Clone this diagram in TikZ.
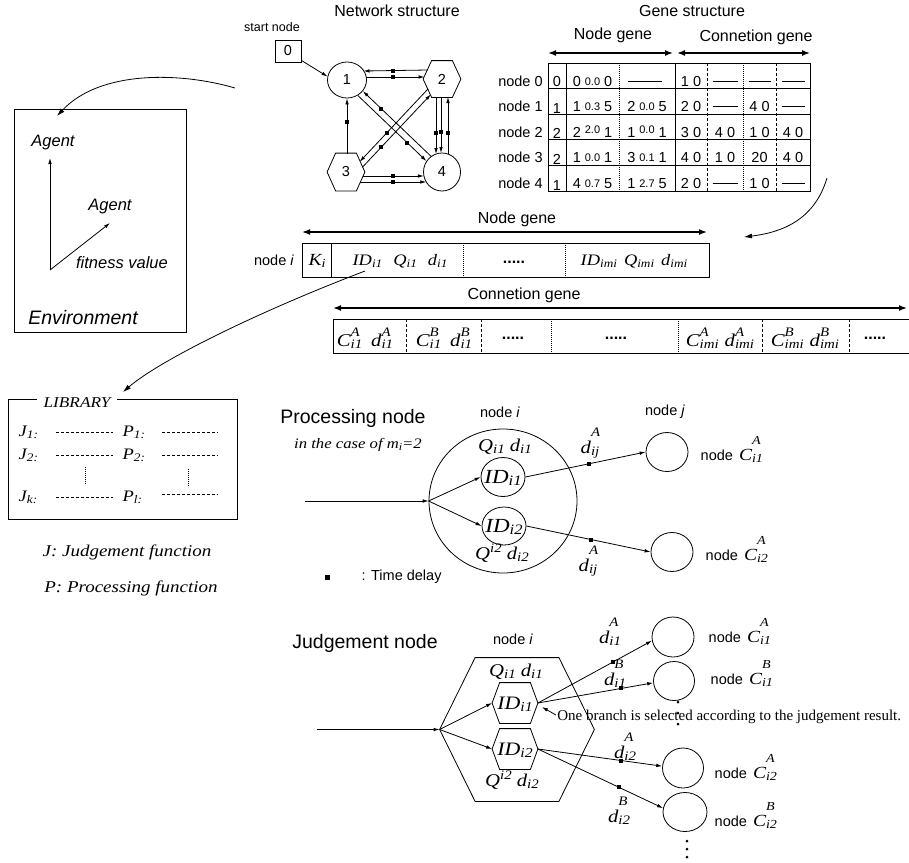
\documentclass[tikz,border=0pt]{standalone}
\usepackage{fontspec}
\usepackage{graphicx}
\setmainfont{Liberation Serif}
\setsansfont{Liberation Sans}
\newfontfamily\arl{Liberation Sans}
\newfontfamily\tif[FakeStretch=1.15]{Liberation Serif}
\usetikzlibrary{arrows.meta,calc,shapes.geometric}
\newcommand\fs[1]{\fontsize{#1}{#1}\selectfont}
\newcommand\ti[1]{{\tif\itshape #1}}
\newcommand\lo[1]{\raisebox{-0.12em}{\scalebox{0.72}{#1}}}
\newcommand\hi[1]{\raisebox{0.42em}{\scalebox{0.72}{#1}}}
\newcommand\lst[3]{\raisebox{-0.12em}{\scalebox{0.72}{\rlap{\raisebox{#3}{#2}}#1}}}
\newcommand\sm[1]{\raisebox{1pt}{\fs{11}#1}}
\newcommand\smh[1]{\raisebox{3.5pt}{\fs{11}#1}}
\newcommand\hexof[2]{\draw ($(#1.west)$) -- ($(#1.north west)+(#2,0)$) -- ($(#1.north east)-(#2,0)$) -- (#1.east) -- ($(#1.south east)-(#2,0)$) -- ($(#1.south west)+(#2,0)$) -- cycle;}
\newcommand\rowb[1]{63+25.6*(#1+1)}
\newcounter{cc}
\newcommand\cell[3]{\stepcounter{cc}\node[anchor=base, font=\arl\fs{14.5}, inner sep=0] (cell\thecc) at (#1, {\rowb{#2}-2.5}) {#3};}
\newcommand\cdash[3]{\draw[line width=0.8pt] ({#1-#3/2}, {\rowb{#2}-7.5}) -- ({#1+#3/2}, {\rowb{#2}-7.5});}
\begin{document}
\begin{tikzpicture}[x=1pt,y=-1pt,line width=0.8pt,
  sf/.style={font=\arl\fs{14.5}},
  hdr/.style={font=\arl\fs{16}},
  bigt/.style={font=\arl\fs{19.5}},
  arr/.style={-{Latex[length=6pt,width=3.6pt]}},
  carr/.style={-{Latex[length=8pt,width=5pt]}},
  dbl/.style={{Latex[length=8pt,width=6pt]}-{Latex[length=8pt,width=6pt]},line width=1.5pt},
  sq/.style={fill=black,draw=none,minimum size=4pt,inner sep=0pt},
  circ/.style={draw,ellipse,inner sep=0pt},
  hexn/.style={inner sep=0pt,rectangle},
  dotl/.style={line width=0.8pt,dash pattern=on 0.8pt off 1.2pt},
  dshl/.style={line width=0.7pt,dash pattern=on 3pt off 2pt}]
\useasboundingbox (0,0) rectangle (909,862);

% ---------------- Network structure ----------------
\node[hdr] (nettitle) at (397,11) {Network structure};
\node[font=\arl\fs{12.5}] (startlbl) at (272,27) {start node};
\node[draw,minimum width=26pt,minimum height=22pt,inner sep=0pt,sf] (n0) at (288,51) {0};
\node[circ,minimum width=39pt,minimum height=36pt,sf] (n1) at (347,80) {1};
\node[hexn,minimum width=37pt,minimum height=36pt,sf] (n2) at (442,79) {2};
\hexof{n2}{8.5}
\node[hexn,minimum width=37pt,minimum height=37pt,sf] (n3) at (346,172) {3};
\hexof{n3}{8.5}
\node[circ,minimum width=37pt,minimum height=38pt,sf] (n4) at (442,172) {4};

\draw[arr] ($(n0.south east)+(0,-2)$) -- (n1.170);
\draw[arr] ($(n2.center)+(-14,-9)$) -- node[sq,pos=.55]{} ($(n1.center)+(16.5,-9)$);
\draw[arr] ($(n1.center)+(19,-3)$) -- node[sq,pos=.46]{} ($(n2.center)+(-17.5,-2)$);
\draw[arr] ($(n2.center)+(-6,18)$) -- node[sq,pos=.63]{} ($(n4.center)+(-6,-18)$);
\draw[arr] ($(n2.center)+(-1,18)$) -- node[sq,pos=.63]{} ($(n4.center)+(-1,-19)$);
\draw[arr] ($(n4.center)+(6,-18)$) -- node[sq,pos=.37]{} ($(n2.center)+(6,18)$);
\draw[arr] ($(n3.center)+(1,-18.5)$) -- node[sq,pos=.57]{} (n1.south);
\draw[arr] ($(n3.center)+(16.7,4)$) -- node[sq,pos=.5]{} ($(n4.center)+(-18.2,4)$);
\draw[arr] ($(n3.center)+(14,10)$) -- node[sq,pos=.5]{} ($(n4.center)+(-15.7,10)$);
\draw[arr] (n4.125) -- node[sq,pos=.73]{} (n1.-35);
\draw[arr] (n1.-55) -- node[sq,pos=.72]{} (n4.145);
\draw[arr] ($(n3.center)+(16.25,-4.6)$) -- node[sq,pos=.28]{} ($(n2.center)+(-11.15,15.4)$);
\draw[arr] ($(n2.center)+(-13.9,9.8)$) -- node[sq,pos=.6]{} ($(n3.center)+(13.6,-10.2)$);

% ---------------- Gene structure table ----------------
\node[hdr] (genetitle) at (692,11) {Gene structure};
\node[hdr] (ngh) at (613,35) {Node gene};
\node[hdr] (cgh) at (756,37) {Connetion gene};
\coordinate (ga) at (548,53); \coordinate (gb) at (673,53);
\coordinate (gc) at (677,53); \coordinate (gd) at (810,53);
\draw[dbl] (ga) -- (gb);
\draw[dbl] (gc) -- (gd);

\draw (548,63) rectangle (810,191);
\foreach \k in {1,...,4} \draw (548,{63+25.6*\k}) -- (810,{63+25.6*\k});
\draw (566,63) -- (566,191);
\draw (675,63) -- (675,191);
\draw[dotl] (619,63) -- (619,191);
\draw[dotl] (743,63) -- (743,191);
\draw[dshl] (707,63) -- (707,191);
\draw[dshl] (776,63) -- (776,191);
\foreach \k in {0,...,4} \node[anchor=base east,sf,inner sep=0pt] (rl\k) at (543,{\rowb{\k}-2.5}) {node \k};

% row 0
\cell{557}{0}{0}
\cell{592.5}{0}{0~\sm{0.0}~0}
\cdash{645}{0}{34}
\cell{691}{0}{1~0}
\cdash{725}{0}{25}
\cdash{759.5}{0}{22}
\cdash{793}{0}{23}
% row 1
\cell{557}{1}{\raisebox{-1.5pt}{1}}
\cell{592.5}{1}{1~\sm{0.3}~5}
\cell{647}{1}{2~\sm{0.0}~5}
\cell{691}{1}{2~0}
\cdash{725}{1}{25}
\cell{759.5}{1}{4~0}
\cdash{793}{1}{23}
% row 2
\cell{557}{2}{\raisebox{-1.5pt}{2}}
\cell{592.5}{2}{2~\smh{2.0}~1}
\cell{647}{2}{1~\smh{0.0}~1}
\cell{691}{2}{3~0}
\cell{725}{2}{4~0}
\cell{759.5}{2}{1~0}
\cell{793}{2}{4~0}
% row 3
\cell{557}{3}{\raisebox{-1.5pt}{2}}
\cell{592.5}{3}{1~\sm{0.0}~1}
\cell{647}{3}{3~\sm{0.1}~1}
\cell{691}{3}{4~0}
\cell{725}{3}{1~0}
\cell{759.5}{3}{20}
\cell{793}{3}{4~0}
% row 4
\cell{557}{4}{\raisebox{-1.5pt}{1}}
\cell{592.5}{4}{4~\sm{0.7}~5}
\cell{647}{4}{1~\sm{2.7}~5}
\cell{691}{4}{2~0}
\cdash{725}{4}{25}
\cell{759.5}{4}{1~0}
\cdash{793}{4}{23}

% ---------------- Environment ----------------
\node[draw,minimum width=172pt,minimum height=223pt,inner sep=0pt] (env) at (100,220.5) {};
\node[font=\arl\itshape\fs{16.5}] (ag1) at (53,143) {Agent};
\node[font=\arl\itshape\fs{16.5}] (ag2) at (110,207) {Agent};
\node[font=\arl\itshape\fs{16.5}] (fit) at (122,263) {fitness value};
\node[font=\arl\itshape\fs{19.5}] (envt) at (83,318) {Environment};
\coordinate (eo) at (50,270);
\coordinate (eup) at (50,158);
\coordinate (ediag) at (110,223);
\draw[arr] (eo) -- (eup);
\draw[arr] (eo) -- (ediag);

\coordinate (netout) at (235,88);
\coordinate (envin) at (57,116);
\draw[carr] (netout) .. controls (180,72) and (100,70) .. (envin);

% ---------------- Node gene bar ----------------
\node[hdr] (ngh2) at (517,219) {Node gene};
\coordinate (nga) at (302,232); \coordinate (ngb) at (707,232);
\draw[dbl] (nga) -- (ngb);
\node[draw,minimum width=407pt,minimum height=34pt,inner sep=0pt] (ngbar) at (505.5,260) {};
\draw (331,243) -- (331,277);
\draw[dotl] (463,243) -- (463,277);
\draw[dotl] (565,243) -- (565,277);
\node[sf] (nodei) at (274,260) {node \textit{i}};
\node[font=\tif\itshape\fs{17}] (ki) at (317,261) {K\lo{i}};
\node[font=\tif\itshape\fs{16}] (idq1) at (400,261) {ID\lo{i1}\hspace{11pt}Q\lo{i1}\hspace{11pt}d\lo{i1}};
\node[font=\arl\bfseries\fs{16}] (ngdots) at (514,262) {.....};
\node[font=\tif\itshape\fs{16}] (idqm) at (634,261) {ID\lo{imi}\hspace{7pt}Q\lo{imi}\hspace{7pt}d\lo{imi}};

\coordinate (tabout) at (827,178);
\coordinate (barin) at (744,237);
\draw[carr] (tabout) .. controls (815,218) and (785,232) .. (barin);

% ---------------- Connection gene bar ----------------
\node[hdr] (cgh2) at (524,295) {Connetion gene};
\coordinate (cga) at (333,308); \coordinate (cgb) at (907,308);
\draw[dbl] (cga) -- (cgb);
\node[draw,minimum width=576pt,minimum height=34pt,inner sep=0pt] (cgbar) at (621,336) {};
\draw[dshl] (406,319) -- (406,353);
\draw[dshl] (481,319) -- (481,353);
\draw[dotl] (551,319) -- (551,353);
\draw[dotl] (678,319) -- (678,353);
\draw[dshl] (762,319) -- (762,353);
\draw[dshl] (849,319) -- (849,353);
\node[font=\tif\itshape\fs{18}] (cg1) at (365,338) {C\lst{i1}{A}{0.95em}\hspace{9pt}d\lst{i1}{A}{0.95em}};
\node[font=\tif\itshape\fs{18}] (cg2) at (444,338) {C\lst{i1}{B}{0.95em}\hspace{9pt}d\lst{i1}{B}{0.95em}};
\node[font=\arl\bfseries\fs{16}] (cgd1) at (513,338) {.....};
\node[font=\arl\bfseries\fs{16}] (cgd2) at (616,338) {.....};
\node[font=\tif\itshape\fs{18}] (cg3) at (720,338) {C\lst{imi}{A}{0.95em}\hspace{6pt}d\lst{imi}{A}{0.95em}};
\node[font=\tif\itshape\fs{18}] (cg4) at (805,338) {C\lst{imi}{B}{0.95em}\hspace{6pt}d\lst{imi}{B}{0.95em}};
\node[font=\arl\bfseries\fs{16}] (cgd3) at (875,338) {.....};

% ---------------- Library ----------------
\coordinate (idout) at (365,271);
\coordinate (libin) at (123,392);
\draw[carr] (idout) .. controls (260,311) and (160,360) .. (libin);
\draw (37,399) -- (8,399) -- (8,519) -- (237,519) -- (237,399) -- (117,399);
\node[font=\tif\itshape\fs{15}] (libt) at (77,403) {LIBRARY};
\node[anchor=west,font=\tif\itshape\fs{16}] (j1) at (15,432) {J\lo{1:}};
\node[anchor=west,font=\tif\itshape\fs{16}] (j2) at (15,455) {J\lo{2:}};
\node[anchor=west,font=\tif\itshape\fs{16}] (jk) at (15,497) {J\lo{k:}};
\node[anchor=west,font=\tif\itshape\fs{16}] (p1) at (119,432) {P\lo{1:}};
\node[anchor=west,font=\tif\itshape\fs{16}] (p2) at (119,455) {P\lo{2:}};
\node[anchor=west,font=\tif\itshape\fs{16}] (pl) at (119,497) {P\lo{l:}};
\draw[dshl,line width=0.6pt] (56,432) -- (113,432);
\draw[dshl,line width=0.6pt] (56,455) -- (113,455);
\draw[dshl,line width=0.6pt] (56,497) -- (113,497);
\draw[dshl,line width=0.6pt] (162,432) -- (218,432);
\draw[dshl,line width=0.6pt] (162,455) -- (218,455);
\draw[dshl,line width=0.6pt] (162,494) -- (218,494);
\draw[dotl] (85,467) -- (85,485);
\draw[dotl] (188,469) -- (188,487);
\node[font=\tif\itshape\fs{16.5}] (jdef) at (127,552) {J: Judgement function};
\node[font=\tif\itshape\fs{16.5}] (pdef) at (131,588) {P: Processing function};

% ---------------- Processing node ----------------
\node[bigt] (proct) at (353,418) {Processing node};
\node[font=\tif\itshape\fs{14.5}] (pcase) at (358,445) {in the case of m\lo{i}=2};
\node[sf] (pnodei) at (500,412) {node \textit{i}};
\node[sf] (pnodej) at (665,412) {node \textit{j}};
\node[circ,minimum width=148pt,minimum height=144pt] (pc) at (503,501) {};
\node[circ,minimum width=44pt,minimum height=39pt] (id1) at (503,477) {};
\node[circ,minimum width=44pt,minimum height=38pt] (id2) at (504,526) {};
\node[font=\tif\itshape\fs{20}] (id1t) at (503,478) {ID\lo{i1}};
\node[font=\tif\itshape\fs{20}] (id2t) at (504,527) {ID\lo{i2}};
\node[font=\tif\itshape\fs{18}] (pq1) at (505,447) {Q\lo{i1} d\lo{i1}};
\node[font=\tif\itshape\fs{18}] (pq2) at (502,553) {Q\hi{i2} d\lo{i2}};
\node[circ,minimum width=42pt,minimum height=39pt] (cj1) at (667,452) {};
\node[circ,minimum width=42pt,minimum height=39pt] (cj2) at (672,552) {};
\coordinate (pin) at (305,501);
\draw[arr] (pin) -- (pc.west);
\draw[arr] (pc.west) -- (id1.west);
\draw[arr] (pc.west) -- (id2.west);
\draw[arr] (id1.east) -- node[sq,pos=.53]{} (cj1.west);
\draw[arr] (id2.east) -- node[sq,pos=.52]{} (cj2.west);
\node[font=\tif\itshape\fs{18},anchor=base] (pd1) at (590,453) {d\lst{ij}{A}{1.45em}};
\node[font=\tif\itshape\fs{18},anchor=base] (pd2) at (588,571) {d\lst{ij}{A}{1.45em}};
\node[sf,anchor=base west] (pl1) at (697,460) {node\hspace{6pt}\ti{\fs{17}C\lst{i1}{A}{1.45em}}};
\node[sf,anchor=base west] (pl2) at (702,560) {node\hspace{6pt}\ti{\fs{17}C\lst{i2}{A}{1.45em}}};
\node[sq,minimum size=5pt] (tdsq) at (327,577) {};
\node[sf,anchor=west] (tdl) at (358,577) {: Time delay};

% ---------------- Judgement node ----------------
\node[bigt] (judt) at (365,643) {Judgement node};
\node[sf] (jnodei) at (513,639) {node \textit{i}};
\node[hexn,minimum width=154pt,minimum height=143pt] (bh) at (517,729.5) {};
\hexof{bh}{35.5}
\node[hexn,minimum width=45pt,minimum height=40pt] (jh1) at (515,703) {};
\hexof{jh1}{7.5}
\node[hexn,minimum width=45pt,minimum height=40pt] (jh2) at (515,749) {};
\hexof{jh2}{7.5}
\node[font=\tif\itshape\fs{19}] (jh1t) at (515,704) {ID\lo{i1}};
\node[font=\tif\itshape\fs{19}] (jh2t) at (515,750) {ID\lo{i2}};
\node[font=\tif\itshape\fs{18}] (jq1) at (516,672) {Q\lo{i1} d\lo{i1}};
\node[font=\tif\itshape\fs{18}] (jq2) at (512,780) {Q\hi{i2} d\lo{i2}};
\node[circ,minimum width=42pt,minimum height=40pt] (c1a) at (673,637) {};
\node[circ,minimum width=41pt,minimum height=39pt] (c1b) at (674,681) {};
\node[circ,minimum width=41pt,minimum height=40pt] (c2a) at (683,768) {};
\node[circ,minimum width=44pt,minimum height=39pt] (c2b) at (685,812) {};
\coordinate (jin) at (317,729.5);
\draw[arr] (jin) -- (bh.west);
\draw[arr] (bh.west) -- (jh1.west);
\draw[arr] (bh.west) -- (jh2.west);
\draw[arr] (jh1.east) -- node[sq,pos=.66]{} (c1a.190);
\draw[arr] (jh1.east) -- node[sq,pos=.72]{} (c1b.185);
\draw[arr] (jh2.east) -- node[sq,pos=.67]{} (c2a.175);
\draw[arr] (jh2.east) -- node[sq,pos=.65]{} (c2b.170);
\node[font=\tif\itshape\fs{18},anchor=base] (jd1) at (610,643) {d\lst{i1}{A}{1.45em}};
\node[font=\tif\itshape\fs{18},anchor=base] (jd2) at (615,685) {d\lst{i1}{B}{1.45em}};
\node[font=\tif\itshape\fs{18},anchor=base] (jd3) at (625,758) {d\lst{i2}{A}{1.45em}};
\node[font=\tif\itshape\fs{18},anchor=base] (jd4) at (619,822) {d\lst{i2}{B}{1.45em}};
\node[sf,anchor=base west] (jl1) at (705,642) {node\hspace{6pt}\ti{\fs{17}C\lst{i1}{A}{1.45em}}};
\node[sf,anchor=base west] (jl2) at (707,684) {node\hspace{6pt}\ti{\fs{17}C\lst{i1}{B}{1.45em}}};
\node[sf,anchor=base west] (jl3) at (711,778) {node\hspace{6pt}\ti{\fs{17}C\lst{i2}{A}{1.45em}}};
\node[sf,anchor=base west] (jl4) at (711,826) {node\hspace{6pt}\ti{\fs{17}C\lst{i2}{B}{1.45em}}};
\node[anchor=west,font=\fs{15},inner sep=0pt] (note) at (557,717) {One branch is selected according to the judgement result.};
\draw[arr] ($(note.west)+(-1,-2)$) -- ($(jh1.east)+(4,4)$);
\foreach \d in {0,11,22} \fill (678,{702+\d}) circle (1.5pt);
\foreach \d in {0,8,16} \fill (687,{841+\d}) circle (1.5pt);
\end{tikzpicture}
\end{document}
